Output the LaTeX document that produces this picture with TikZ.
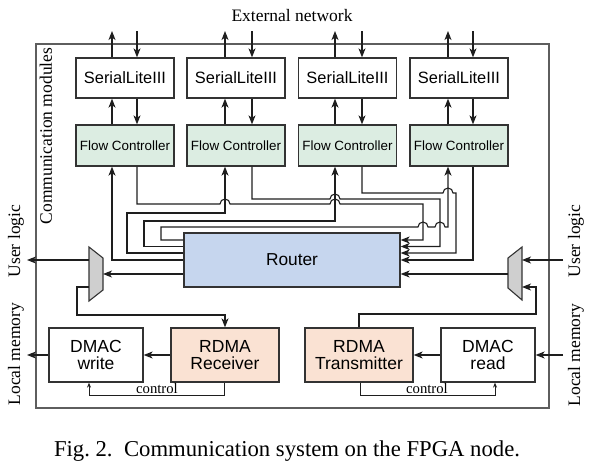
\documentclass[tikz,border=0pt]{standalone}
\usepackage{fontspec}
\setmainfont{Liberation Serif}
\newfontfamily\boxfont{Liberation Sans}
\usetikzlibrary{arrows.meta}
\definecolor{linec}{HTML}{1E1E1E}
\definecolor{boxc}{HTML}{333333}
\definecolor{framec}{HTML}{5E5E5E}
\definecolor{fcfill}{HTML}{DCEDE2}
\definecolor{routerfill}{HTML}{C6D6EE}
\definecolor{rdmafill}{HTML}{FAE2D3}
\definecolor{muxfill}{HTML}{CFCFCF}
\begin{document}
\begin{tikzpicture}[x=1pt,y=-1pt,
  arr/.style={draw=linec, line width=1.1pt, -{Stealth[length=9pt,width=7pt,inset=2.5pt]}},
  carr/.style={draw=linec, line width=0.8pt, -{Stealth[length=5pt,width=4pt]}},
  basebox/.style={draw=boxc, line width=1.3pt, inner sep=0pt, align=center},
  slbox/.style={basebox, minimum width=98pt, minimum height=40pt, font=\boxfont\fontsize{16.4}{19}\selectfont},
  fcbox/.style={basebox, fill=fcfill, minimum width=98pt, minimum height=41pt, font=\boxfont\fontsize{13.4}{16}\selectfont},
  routerbox/.style={basebox, fill=routerfill, minimum width=216pt, minimum height=54pt, font=\boxfont\fontsize{17.3}{20}\selectfont},
  bigbox/.style={basebox, minimum width=94pt, minimum height=54pt, font=\boxfont\fontsize{17.5}{17.5}\selectfont},
  rdmabox/.style={bigbox, fill=rdmafill, minimum width=108pt},
  serif/.style={inner sep=0pt, font=\fontsize{17.5}{20}\selectfont},
  ctl/.style={inner sep=0pt, anchor=base, font=\fontsize{14.7}{17}\selectfont},
  muxshape/.style={draw=boxc, fill=muxfill, line width=1.1pt, line join=miter},
]
\useasboundingbox (0,0) rectangle (592,475);

% frame
\draw[draw=framec, line width=1.3pt] (36,44) rectangle (549,408);

% column coordinates
\coordinate (u1) at (112,0); \coordinate (d1) at (137,0);
\coordinate (u2) at (225,0); \coordinate (d2) at (252,0);
\coordinate (u3) at (335,0); \coordinate (d3) at (362,0);
\coordinate (u4) at (448,0); \coordinate (d4) at (473,0);
\coordinate (top) at (0,31);
\coordinate (ra) at (0,240); \coordinate (rb) at (0,246.5);
\coordinate (rc) at (0,253); \coordinate (rd) at (0,260);
\coordinate (rm) at (0,274);

% boxes
\node[slbox] (sl1) at (125,78) {SerialLiteIII};
\node[slbox] (sl2) at (236,78) {SerialLiteIII};
\node[slbox] (sl3) at (347.5,78) {SerialLiteIII};
\node[slbox] (sl4) at (459,78) {SerialLiteIII};
\node[fcbox] (fc1) at (125,145.5) {Flow Controller};
\node[fcbox] (fc2) at (236,145.5) {Flow Controller};
\node[fcbox] (fc3) at (347.5,145.5) {Flow Controller};
\node[fcbox] (fc4) at (459,145.5) {Flow Controller};
\node[routerbox] (router) at (292,260) {Router};
\node[bigbox] (dw) at (96,355) {DMAC\\write};
\node[rdmabox] (rx) at (225,355) {RDMA\\Receiver};
\node[rdmabox] (tx) at (359,355) {RDMA\\Transmitter};
\node[bigbox] (dr) at (488,355) {DMAC\\read};

% labels
\node[serif] (ext) at (292,16) {External network};
\node[serif, rotate=90] (comm) at (46,136) {Communication modules};
\node[serif, rotate=90] (ulL) at (16,241) {User logic};
\node[serif, rotate=90] (lmL) at (16,354) {Local memory};
\node[serif, rotate=90] (ulR) at (576,241) {User logic};
\node[serif, rotate=90] (lmR) at (576,355) {Local memory};
\node[inner sep=0pt, font=\fontsize{22.7}{26}\selectfont] (cap) at (287,451) {Fig.~2.\ \ Communication system on the FPGA node.};

% multiplexers
\draw[muxshape] (89,247) -- (103,258) -- (103,290) -- (89,301) -- cycle;
\draw[muxshape] (522,247) -- (508,258) -- (508,288) -- (522,300) -- cycle;
\coordinate (mlR) at (103,274); \coordinate (mlU) at (89,260); \coordinate (mlD) at (89,287);
\coordinate (mrL) at (508,274); \coordinate (mrU) at (522,260); \coordinate (mrD) at (522,287);
\coordinate (ulLend) at (27,260); \coordinate (lmLend) at (27,355);
\coordinate (ulRbeg) at (563,260); \coordinate (lmRbeg) at (563,355);

% top and SL-FC arrows
\foreach \i in {1,2,3,4}{
  \draw[arr] (sl\i.north -| u\i) -- (u\i |- top);
  \draw[arr] (d\i |- top) -- (sl\i.north -| d\i);
  \draw[arr] (fc\i.north -| u\i) -- (sl\i.south -| u\i);
  \draw[arr] (sl\i.south -| d\i) -- (fc\i.north -| d\i);
}

% router left side to flow controllers
\draw[arr] (router.west |- rd) -- (u1 |- rd) -- (fc1.south -| u1);
\draw[arr] (router.west |- rc) -- (127,253) -- (127,213) -- (225,213) -- (fc2.south -| u2);
\draw[arr] (router.west |- rb) -- (144,246.5) -- (144,221) -- (335,221) -- (fc3.south -| u3);
\draw[arr] (router.west |- ra) -- (161,240) -- (161,227) -- (418,227)
   arc[start angle=180, end angle=360, radius=5] -- (435,227)
   arc[start angle=180, end angle=360, radius=5] -- (448,227) -- (fc4.south -| u4);

% flow controllers to router right side
\draw[arr] (fc1.south -| d1) -- (137,204) -- (220,204)
   arc[start angle=180, end angle=360, radius=5] -- (330,204)
   arc[start angle=180, end angle=360, radius=5] -- (423,204) -- (423,240) -- (router.east |- ra);
\draw[arr] (fc2.south -| d2) -- (252,199) -- (330,199)
   arc[start angle=180, end angle=360, radius=5] -- (440,199) -- (440,246.5) -- (router.east |- rb);
\draw[arr] (fc3.south -| d3) -- (362,193) -- (443,193)
   arc[start angle=180, end angle=360, radius=5] -- (456,193) -- (456,253) -- (router.east |- rc);
\draw[arr] (fc4.south -| d4) -- (473,260) -- (router.east |- rd);

% multiplexer connections
\draw[arr] (router.west |- rm) -- (mlR);
\draw[arr] (mlU) -- (ulLend);
\draw[arr] (mlD) -- (77,287) -- (77,315) -- (225,315) -- (rx.north);
\draw[arr] (ulRbeg) -- (mrU);
\draw[arr] (tx.north) -- (359,314) -- (536,314) -- (536,287) -- (mrD);
\draw[arr] (mrL) -- (router.east |- rm);

% bottom data path
\draw[arr] (rx.west) -- (dw.east);
\draw[arr] (dw.west) -- (lmLend);
\draw[arr] (dr.west) -- (tx.east);
\draw[arr] (lmRbeg) -- (dr.east);

% control
\coordinate (xa) at (89,0); \coordinate (xb) at (224,0);
\coordinate (xc) at (360,0); \coordinate (xd) at (495,0);
\coordinate (cy) at (0,395);
\draw[carr] (rx.south -| xb) -- (xb |- cy) -- (xa |- cy) -- (dw.south -| xa);
\draw[carr] (tx.south -| xc) -- (xc |- cy) -- (xd |- cy) -- (dr.south -| xd);
\node[ctl] (ctl1) at (157,393) {control};
\node[ctl] (ctl2) at (427,393) {control};
\end{tikzpicture}
\end{document}
